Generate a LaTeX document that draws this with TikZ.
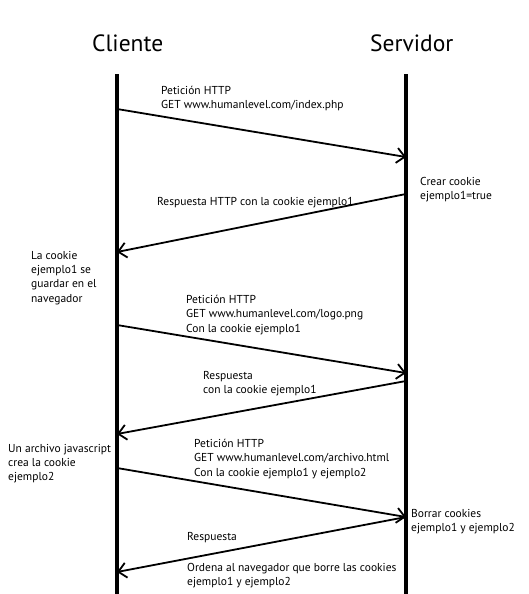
\documentclass[tikz,border=0pt]{standalone}
\usepackage{fontspec}
\setmainfont{PT Sans}
\usetikzlibrary{arrows.meta, positioning}

\begin{document}
\begin{tikzpicture}[x=1pt, y=-1pt,
  head/.style={anchor=base west, inner sep=0, font=\fontsize{23.5}{28}\selectfont},
  life/.style={line width=4.5pt},
  msg/.style={-{Straight Barb[length=8pt, width=15pt, line width=1.8pt]}, line width=1.8pt},
  note/.style={anchor=north west, inner sep=0, align=left,
               font=\fontsize{11.5}{14.3}\selectfont}
]
\useasboundingbox (0,0) rectangle (529,594);

% Lifelines
\node[head] (cliente) at (92,52) {Cliente};
\node[head] (servidor) at (370,52) {Servidor};
\coordinate (ctop) at (117,74);  \coordinate (cbot) at (117,594);
\coordinate (stop) at (406,74);  \coordinate (sbot) at (406,594);
\draw[life] (ctop)--(cbot);
\draw[life] (stop)--(sbot);

% Message points
\coordinate (c1) at (117,109); \coordinate (s1) at (406,157);
\coordinate (s2) at (406,194); \coordinate (c2) at (117,252);
\coordinate (c3) at (117,325); \coordinate (s3) at (406,373);
\coordinate (s4) at (406,381); \coordinate (c4) at (117,434);
\coordinate (c5) at (117,468); \coordinate (s5) at (406,517);
\coordinate (c6) at (117,572);

% Messages
\draw[msg] (c1)--(s1);
\draw[msg] (s2)--(c2);
\draw[msg] (c3)--(s3);
\draw[msg] (s4)--(c4);
\draw[msg] (c5)--(s5);
\draw[msg] (s5)--(c6);

% Message labels
\node[note] (m1) at (161,86) {Petición HTTP\\GET www.humanlevel.com/index.php};
\node[note] (m2) at (157,197) {Respuesta HTTP con la cookie ejemplo1};
\node[note] (m3) at (186,295) {Petición HTTP\\GET www.humanlevel.com/logo.png\\Con la cookie ejemplo1};
\node[note] (m4) at (203,371) {Respuesta\\con la cookie ejemplo1};
\node[note] (m5) at (194,439) {Petición HTTP\\GET www.humanlevel.com/archivo.html\\Con la cookie ejemplo1 y ejemplo2};
\node[note] (m6) at (187,532) {Respuesta};
\node[note] (m7) at (187,563) {Ordena al navegador que borre las cookies\\ejemplo1 y ejemplo2};

% Side notes
\node[note] (n1) at (420,177) {Crear cookie\\ejemplo1=true};
\node[note] (n2) at (31,251) {La cookie\\ejemplo1 se\\guardar en el\\navegador};
\node[note] (n3) at (8,444) {Un archivo javascript\\crea la cookie\\ejemplo2};
\node[note] (n4) at (411,509) {Borrar cookies\\ejemplo1 y ejemplo2};
\end{tikzpicture}
\end{document}
